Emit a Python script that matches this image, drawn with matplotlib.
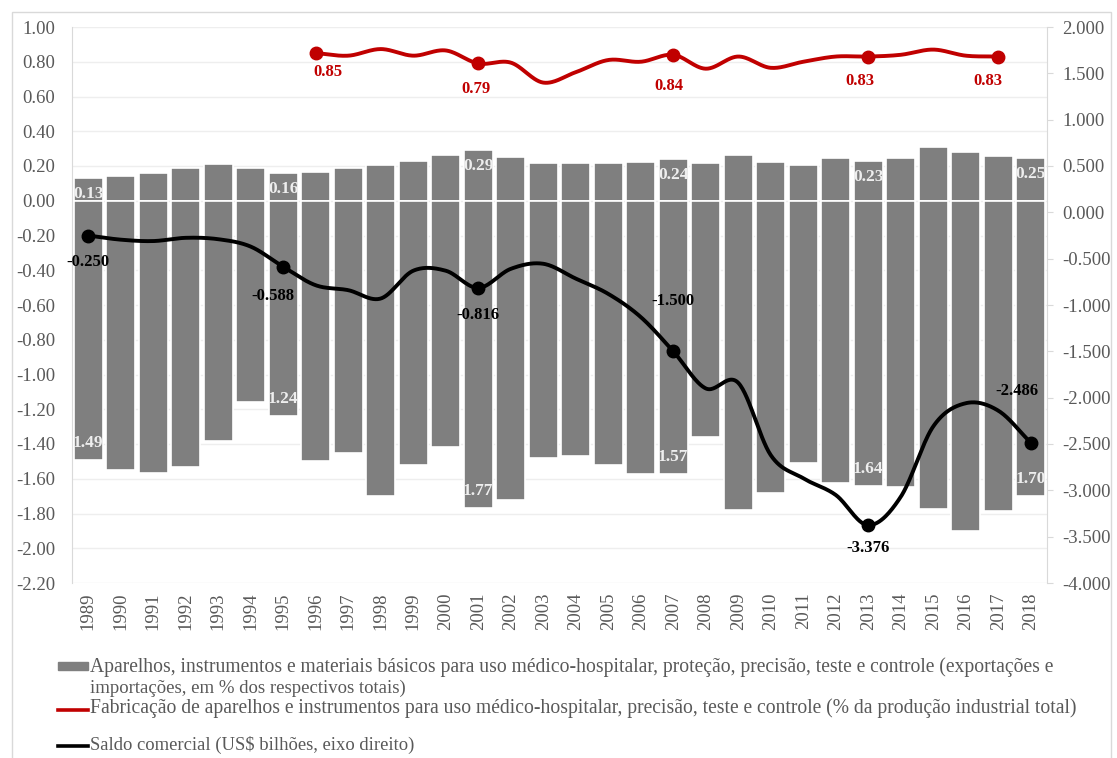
import numpy as np
import matplotlib
matplotlib.use('Agg')
import matplotlib.pyplot as plt
from matplotlib.patches import Rectangle
from matplotlib.lines import Line2D
from matplotlib.ticker import FormatStrFormatter

plt.rcParams['font.family'] = ['Liberation Serif', 'DejaVu Serif']
plt.rcParams['axes.unicode_minus'] = False

# data
years = list(range(1989, 2019))
exports = [0.13, 0.145, 0.16, 0.19, 0.21, 0.19, 0.16, 0.165, 0.19, 0.205,
           0.23, 0.265, 0.29, 0.25, 0.22, 0.215, 0.215, 0.225, 0.24, 0.22,
           0.265, 0.225, 0.205, 0.245, 0.23, 0.245, 0.31, 0.28, 0.26, 0.245]
imports = [1.49, 1.55, 1.565, 1.53, 1.38, 1.16, 1.24, 1.50, 1.45, 1.70,
           1.52, 1.42, 1.77, 1.72, 1.48, 1.47, 1.52, 1.57, 1.57, 1.36,
           1.78, 1.68, 1.51, 1.625, 1.64, 1.65, 1.775, 1.90, 1.785, 1.70]
red_years = list(range(1996, 2018))
red_vals = [0.85, 0.835, 0.873, 0.835, 0.865, 0.79, 0.795, 0.68, 0.74, 0.81,
            0.80, 0.84, 0.76, 0.83, 0.765, 0.80, 0.83, 0.83, 0.84, 0.87,
            0.835, 0.83]
saldo = [-0.250, -0.295, -0.31, -0.275, -0.29, -0.37, -0.588, -0.787, -0.84, -0.93,
         -0.63, -0.63, -0.816, -0.61, -0.555, -0.715, -0.88, -1.13, -1.500, -1.90,
         -1.84, -2.62, -2.87, -3.05, -3.376, -3.07, -2.31, -2.06, -2.14, -2.486]

bar_label_years = [1989, 1995, 2001, 2007, 2013, 2018]
exp_labels = ['0.13', '0.16', '0.29', '0.24', '0.23', '0.25']
imp_labels = ['1.49', '1.24', '1.77', '1.57', '1.64', '1.70']
red_label_years = [1996, 2001, 2007, 2013, 2017]
red_labels = ['0.85', '0.79', '0.84', '0.83', '0.83']
saldo_label_years = [1989, 1995, 2001, 2007, 2013, 2018]
saldo_labels = ['-0.250', '-0.588', '-0.816', '-1.500', '-3.376', '-2.486']

leg_bar = ('Aparelhos, instrumentos e materiais básicos para uso médico-hospitalar, '
           'proteção, precisão, teste e controle (exportações e')
leg_bar2 = 'importações, em % dos respectivos totais)'
leg_red = ('Fabricação de aparelhos e instrumentos para uso médico-hospitalar, '
           'precisão, teste e controle (% da produção industrial total)')
leg_black = 'Saldo comercial (US$ bilhões, eixo direito)'

GRAY = '#7f7f7f'
RED = '#c00000'
TXT = '#595959'
W, H = 1117, 758


def smooth(x, y, n=30):
    # catmull-rom curve through the points (like excel smoothed lines)
    x = np.asarray(x, float)
    y = np.asarray(y, float)
    xp = np.concatenate([[2 * x[0] - x[1]], x, [2 * x[-1] - x[-2]]])
    yp = np.concatenate([[2 * y[0] - y[1]], y, [2 * y[-1] - y[-2]]])
    t = np.linspace(0, 1, n, endpoint=False)[:, None]
    xs, ys = [], []
    for i in range(1, len(xp) - 2):
        for arr, out in ((xp, xs), (yp, ys)):
            p0, p1, p2, p3 = arr[i - 1], arr[i], arr[i + 1], arr[i + 2]
            seg = 0.5 * ((2 * p1) + (-p0 + p2) * t + (2 * p0 - 5 * p1 + 4 * p2 - p3) * t ** 2
                         + (-p0 + 3 * p1 - 3 * p2 + p3) * t ** 3)
            out.extend(seg.ravel())
    xs.append(x[-1])
    ys.append(y[-1])
    return np.array(xs), np.array(ys)


fig = plt.figure(figsize=(W / 100, H / 100), dpi=100)
ax = fig.add_axes([72 / W, 1 - 583 / H, (1047 - 72) / W, (583 - 27) / H])
ax2 = ax.twinx()

idx = np.arange(len(years))
pos = ax.bar(idx, exports, width=0.88, color=GRAY, edgecolor='white', linewidth=1.2, zorder=2)
neg = ax.bar(idx, [-v for v in imports], width=0.88, color=GRAY, edgecolor='white', linewidth=1.2, zorder=2)

for yr, lp, ln in zip(bar_label_years, exp_labels, imp_labels):
    i = years.index(yr)
    t1 = ax.annotate(lp, (i, exports[i]), xytext=(0, -16), textcoords='offset pixels',
                     ha='center', va='center', color='#eeeeee', fontsize=12.5, fontweight='bold', zorder=3)
    t1.set_clip_path(pos[i])
    t2 = ax.annotate(ln, (i, -imports[i]), xytext=(0, 17), textcoords='offset pixels',
                     ha='center', va='center', color='#eeeeee', fontsize=12.5, fontweight='bold', zorder=3)
    t2.set_clip_path(neg[i])

# red line (left axis)
ridx = np.array([years.index(y) for y in red_years])
sx, sy = smooth(ridx, red_vals)
ax.plot(sx, sy, color=RED, lw=2.8, zorder=4, solid_capstyle='round')
red_off = [(12, -19), (-2, -26), (-4, -31), (-8, -24), (-10, -24)]
for yr, lab, off in zip(red_label_years, red_labels, red_off):
    i = years.index(yr)
    v = red_vals[red_years.index(yr)]
    ax.plot(i, v, 'o', color=RED, ms=9, zorder=5)
    ax.annotate(lab, (i, v), xytext=off, textcoords='offset pixels', ha='center', va='center',
                color=RED, fontsize=12, fontweight='bold', zorder=5)

# black line (right axis)
bx, by = smooth(idx, saldo)
ax2.plot(bx, by, color='black', lw=2.8, zorder=4)
saldo_off = [(0, -27), (-10, -29), (0, -27), (0, 50), (0, -23), (-14, 52)]
for yr, lab, off in zip(saldo_label_years, saldo_labels, saldo_off):
    i = years.index(yr)
    ax2.plot(i, saldo[i], 'o', color='black', ms=9, zorder=5)
    ax2.annotate(lab, (i, saldo[i]), xytext=off, textcoords='offset pixels', ha='center', va='center',
                 color='black', fontsize=12, fontweight='bold', zorder=5)

ax.set_xlim(-0.5, len(years) - 0.5)
ax.set_ylim(-2.2, 1.0)
ax.set_yticks(np.round(np.arange(-2.2, 1.01, 0.2), 2))
ax.yaxis.set_major_formatter(FormatStrFormatter('%.2f'))
ax.set_xticks(idx)
ax.set_xticklabels([str(y) for y in years], rotation=90)
ax.tick_params(axis='y', length=0, colors=TXT, labelsize=13.5, pad=12)
ax.tick_params(axis='x', length=0, colors=TXT, labelsize=13.5, pad=7)
ax.yaxis.grid(True, color='#eeeeee', lw=1)
ax.set_axisbelow(True)
for s in ['top', 'bottom', 'right']:
    ax.spines[s].set_visible(False)
ax.spines['left'].set_color('#d9d9d9')

ax2.set_ylim(-4.0, 2.0)
ax2.set_yticks(np.arange(-4.0, 2.01, 0.5))
ax2.yaxis.set_major_formatter(FormatStrFormatter('%.3f'))
ax2.tick_params(axis='y', length=4, color='#d9d9d9', colors=TXT, labelsize=13.5, pad=7)
ax2.tick_params(axis='y', color='#d9d9d9')
for s in ['top', 'bottom', 'left']:
    ax2.spines[s].set_visible(False)
ax2.spines['right'].set_color('#d9d9d9')

# outer frame
fig.patches.append(Rectangle((12 / W, -0.01), (1111 - 12) / W, 1 - 12 / H + 0.01,
                             transform=fig.transFigure, fill=False, edgecolor='#d9d9d9', lw=1))

# legend drawn by hand so the long label wraps like the original
def fx(px):
    return px / W


def fy(py):
    return 1 - py / H


fig.patches.append(Rectangle((fx(58), fy(670)), 30 / W, 8 / H, transform=fig.transFigure,
                             color=GRAY))
fig.lines.append(Line2D([fx(58), fx(88)], [fy(710), fy(710)], transform=fig.transFigure, color=RED, lw=2.6))
fig.lines.append(Line2D([fx(58), fx(88)], [fy(746), fy(746)], transform=fig.transFigure, color='black', lw=2.6))
lk = dict(color=TXT, va='center', ha='left')
fig.text(fx(90), fy(667), leg_bar, fontsize=14.1, **lk)
fig.text(fx(90), fy(688), leg_bar2, fontsize=13.5, **lk)
fig.text(fx(90), fy(708), leg_red, fontsize=14.1, **lk)
fig.text(fx(90), fy(745), leg_black, fontsize=13.4, **lk)

fig.savefig('out.png', dpi=100)
